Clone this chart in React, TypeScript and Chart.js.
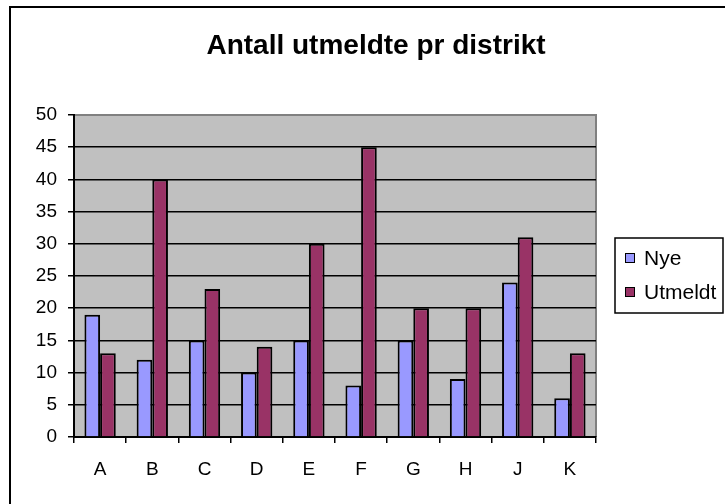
import React, { useEffect, useRef } from "react";
import { Chart, registerables } from "chart.js";

Chart.register(...registerables);

const categories = ["A", "B", "C", "D", "E", "F", "G", "H", "J", "K"];
const nyeValues = [19, 12, 15, 10, 15, 8, 15, 9, 24, 6];
const utmeldtValues = [13, 40, 23, 14, 30, 45, 20, 20, 31, 13];
const seriesNames = ["Nye", "Utmeldt"];
const seriesColors = ["#9999FF", "#993366"];
const titleText = "Antall utmeldte pr distrikt";
const yMin = 0;
const yMax = 50;
const yStep = 5;

const FONT = "'Liberation Sans', Arial, sans-serif";

const framePlugin = {
  id: "excelFrame",
  beforeDraw(chart: any) {
    const { ctx, chartArea } = chart;
    ctx.save();
    ctx.fillStyle = "#ffffff";
    ctx.fillRect(0, 0, chart.width, chart.height);
    // outer chart border (cropped)
    ctx.strokeStyle = "#000000";
    ctx.lineWidth = 2;
    ctx.strokeRect(10, 7, chart.width + 50, chart.height + 50);
    // plot area background
    ctx.fillStyle = "#C0C0C0";
    ctx.fillRect(chartArea.left, chartArea.top, chartArea.right - chartArea.left, chartArea.bottom - chartArea.top);
    // plot area top/right gray border
    ctx.strokeStyle = "#808080";
    ctx.lineWidth = 2;
    ctx.beginPath();
    ctx.moveTo(chartArea.left, chartArea.top);
    ctx.lineTo(chartArea.right, chartArea.top);
    ctx.lineTo(chartArea.right, chartArea.bottom);
    ctx.stroke();
    ctx.restore();
  },
  afterDraw(chart: any) {
    const { ctx } = chart;
    const x0 = 615, y0 = 238, w = 108, h = 75;
    ctx.save();
    ctx.fillStyle = "#ffffff";
    ctx.fillRect(x0, y0, w, h);
    ctx.strokeStyle = "#000000";
    ctx.lineWidth = 1.5;
    ctx.strokeRect(x0, y0, w, h);
    ctx.font = `21px ${FONT}`;
    ctx.textBaseline = "middle";
    ctx.textAlign = "left";
    chart.data.datasets.forEach((ds: any, i: number) => {
      const cy = y0 + 20 + i * 34;
      ctx.fillStyle = ds.backgroundColor;
      ctx.fillRect(625.5, cy - 4.5, 9, 9);
      ctx.strokeStyle = "#000000";
      ctx.lineWidth = 1;
      ctx.strokeRect(625.5, cy - 4.5, 9, 9);
      ctx.fillStyle = "#000000";
      ctx.fillText(ds.label, 644, cy + 1);
    });
    ctx.restore();
  },
};

export default function App() {
  const ref = useRef<HTMLCanvasElement | null>(null);
  useEffect(() => {
    if (!ref.current) return;
    const chart = new Chart(ref.current, {
      type: "bar",
      data: {
        labels: categories,
        datasets: [
          {
            label: seriesNames[0],
            data: nyeValues,
            backgroundColor: seriesColors[0],
            borderColor: "#000000",
            borderWidth: 2,
            categoryPercentage: 0.6,
            barPercentage: 1.0,
          },
          {
            label: seriesNames[1],
            data: utmeldtValues,
            backgroundColor: seriesColors[1],
            borderColor: "#000000",
            borderWidth: 2,
            categoryPercentage: 0.6,
            barPercentage: 1.0,
          },
        ],
      },
      options: {
        responsive: false,
        animation: false,
        layout: { padding: { left: 27, right: 0, top: 0, bottom: 0 } },
        plugins: {
          legend: { display: false },
          tooltip: { enabled: false },
          title: {
            display: true,
            text: titleText,
            color: "#000000",
            font: { family: FONT, size: 28, weight: "bold" },
            padding: { top: 29.2, bottom: 52.2 },
          },
        },
        scales: {
          x: {
            offset: true,
            grid: {
              offset: true,
              drawOnChartArea: false,
              drawTicks: true,
              tickLength: 6,
              color: "#000000",
              lineWidth: 1.5,
            },
            border: { display: true, color: "#000000", width: 2 },
            ticks: {
              color: "#000000",
              font: { family: FONT, size: 19 },
              padding: 15,
              maxRotation: 0,
            },
            afterFit: (s: any) => {
              s.height = 67;
            },
          },
          y: {
            min: yMin,
            max: yMax,
            grid: {
              color: (c: any) => (c.tick && c.tick.value === yMax ? "rgba(0,0,0,0)" : "#000000"),
              tickColor: "#000000",
              lineWidth: 1.5,
              drawTicks: true,
              tickLength: 6,
            },
            border: { display: true, color: "#000000", width: 2 },
            ticks: {
              stepSize: yStep,
              color: "#000000",
              font: { family: FONT, size: 19 },
              padding: 11,
            },
            afterFit: (s: any) => {
              s.width = 47;
            },
          },
          legendSpace: {
            type: "linear",
            position: "right",
            display: true,
            grid: { display: false, drawTicks: false },
            border: { display: false },
            ticks: { display: false },
            afterFit: (s: any) => {
              s.width = 129;
            },
          },
        },
      },
      plugins: [framePlugin],
    });
    return () => chart.destroy();
  }, []);
  return (
    <div style={{ position: "fixed", left: 0, top: 0, width: 725, height: 504 }}>
      <canvas ref={ref} width={725} height={504} style={{ width: 725, height: 504, display: "block" }} />
    </div>
  );
}
